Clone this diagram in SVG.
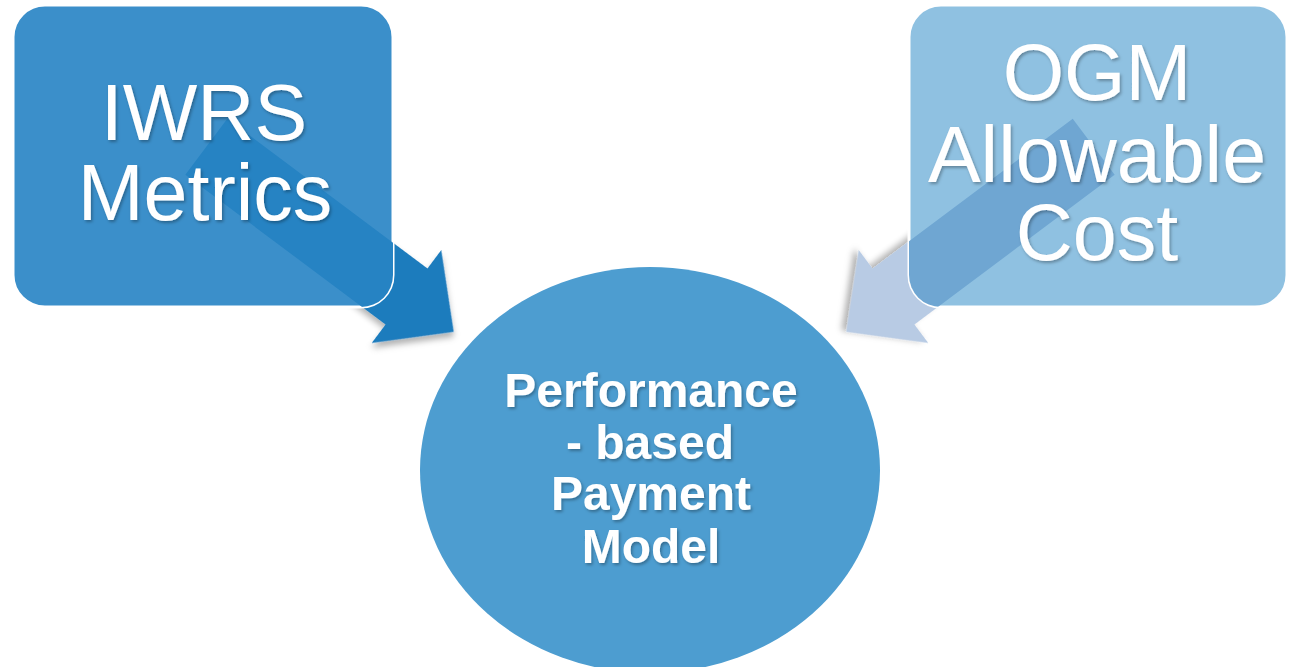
<svg xmlns="http://www.w3.org/2000/svg" xmlns:xlink="http://www.w3.org/1999/xlink" width="1291" height="667" viewBox="0 0 1291 667">
<style>
.lbl{font-family:"Liberation Sans",Arial,sans-serif;fill:#ffffff;text-anchor:middle}
.big{font-size:79px}
.mid{font-size:48px;font-weight:bold}
.box{stroke:#ffffff;stroke-width:3}
</style>
<defs>
<filter id="tsh" x="-10%" y="-10%" width="130%" height="140%">
<feDropShadow dx="1.5" dy="2" stdDeviation="1.5" flood-color="#000" flood-opacity="0.3"/>
</filter>
<filter id="ash" x="-20%" y="-20%" width="150%" height="150%">
<feDropShadow dx="3" dy="4" stdDeviation="3" flood-color="#000" flood-opacity="0.3"/>
</filter>
<path id="arr" d="M-250,-35 L0,-35 L0,-58 L59,0 L0,58 L0,35 L-250,35 Z"/>
<clipPath id="clipL"><rect x="13" y="5" width="380" height="302" rx="32"/></clipPath>
<clipPath id="clipR"><rect x="909" y="5" width="378" height="302" rx="32"/></clipPath>
</defs>
<rect width="1291" height="667" fill="#ffffff"/>
<g id="connectors">
<use xlink:href="#arr" transform="translate(406.5,296.5) rotate(36.8)" fill="#1f7bbd" filter="url(#ash)"/>
<use xlink:href="#arr" transform="translate(893.5,296.5) rotate(143.2)" fill="#b8cbe4" filter="url(#ash)"/>
</g>
<g id="center">
<ellipse cx="650" cy="470" rx="230" ry="203" fill="#4d9dd0"/>
<g class="lbl mid" filter="url(#tsh)">
<text x="651" y="407">Performance</text>
<text x="650" y="459">- based</text>
<text x="651" y="510">Payment</text>
<text x="651" y="563">Model</text>
</g>
</g>
<g id="iwrs">
<rect class="box" x="13" y="5" width="380" height="302" rx="32" fill="#3b8fca"/>
<g clip-path="url(#clipL)"><use xlink:href="#arr" transform="translate(406.5,296.5) rotate(36.8)" fill="#2683c3"/></g>
<g class="lbl big" filter="url(#tsh)">
<text x="204" y="140">IWRS</text>
<text x="205" y="220">Metrics</text>
</g>
</g>
<g id="ogm">
<rect class="box" x="909" y="5" width="378" height="302" rx="32" fill="#8fc1e1"/>
<g clip-path="url(#clipR)"><use xlink:href="#arr" transform="translate(893.5,296.5) rotate(143.2)" fill="#6fa6d2"/></g>
<g class="lbl big" filter="url(#tsh)">
<text x="1097" y="100">OGM</text>
<text x="1097" y="182">Allowable</text>
<text x="1097" y="260">Cost</text>
</g>
</g>
</svg>
